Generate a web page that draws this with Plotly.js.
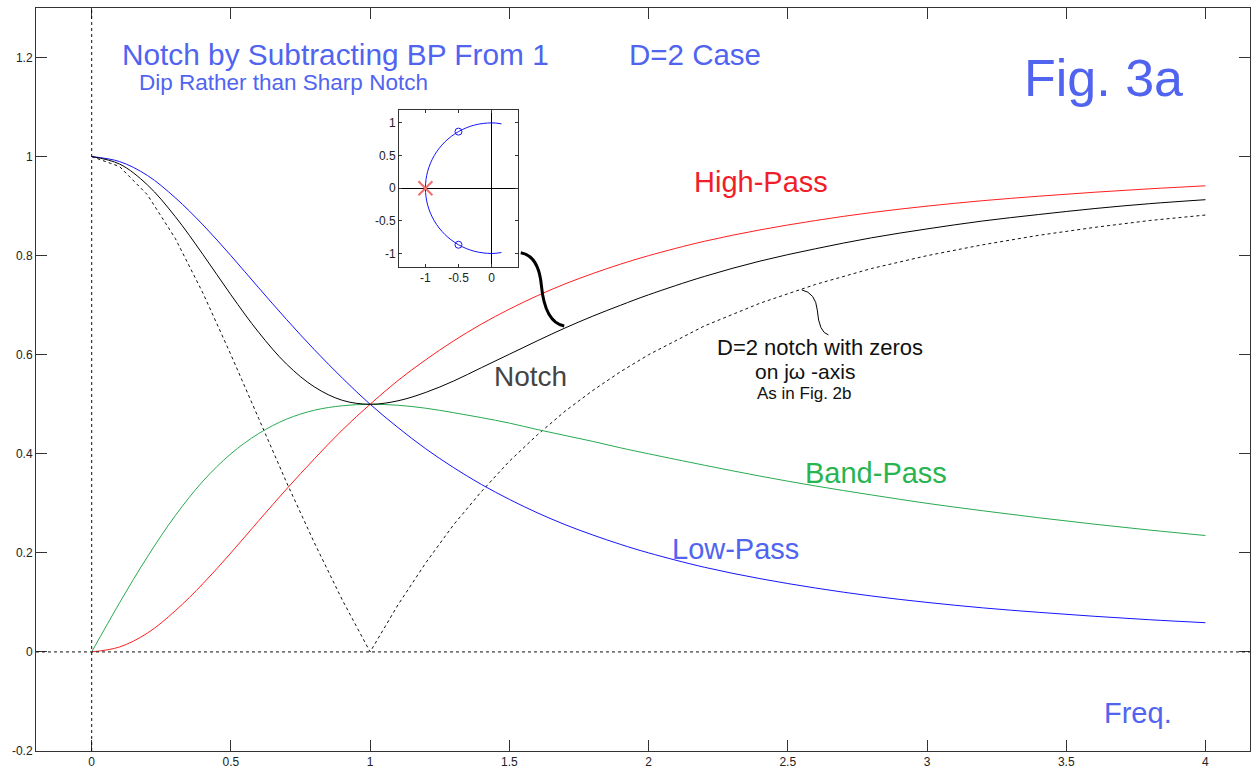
<!DOCTYPE html>
<html>
<head>
<meta charset="utf-8">
<script src="https://cdn.plot.ly/plotly-3.0.1.min.js"></script>
<style>html,body{margin:0;padding:0;background:#fff;}#chart{width:1260px;height:774px;}</style>
</head>
<body>
<div id="chart"></div>
<script>
// Frequency samples
const freq = [0,0.1,0.2,0.3,0.4,0.5,0.6,0.7,0.8,0.9,1.0,1.1,1.2,1.3,1.4,1.5,1.6,1.7,1.8,1.9,2.0,2.2,2.4,2.6,2.8,3.0,3.2,3.4,3.6,3.8,4.0];
const lowPass  = [1,0.990,0.962,0.917,0.862,0.800,0.735,0.671,0.610,0.553,0.500,0.453,0.410,0.372,0.338,0.308,0.281,0.257,0.236,0.217,0.200,0.171,0.148,0.129,0.113,0.100,0.089,0.080,0.072,0.065,0.059];
const highPass = [0,0.010,0.038,0.083,0.138,0.200,0.265,0.329,0.390,0.448,0.500,0.548,0.590,0.628,0.662,0.692,0.719,0.743,0.764,0.783,0.800,0.829,0.852,0.871,0.887,0.900,0.911,0.920,0.928,0.935,0.941];
const bandPass = [0,0.099,0.192,0.275,0.345,0.400,0.441,0.470,0.488,0.497,0.500,0.498,0.492,0.483,0.473,0.462,0.449,0.437,0.425,0.412,0.400,0.377,0.355,0.335,0.317,0.300,0.285,0.271,0.258,0.246,0.235];
const notch    = [1,0.985,0.943,0.879,0.802,0.721,0.645,0.581,0.535,0.508,0.500,0.507,0.524,0.547,0.574,0.601,0.628,0.654,0.678,0.700,0.721,0.758,0.789,0.814,0.836,0.854,0.870,0.883,0.895,0.905,0.913];
const notchJw  = [1,0.980,0.923,0.835,0.724,0.600,0.471,0.342,0.220,0.105,0.000,0.095,0.180,0.257,0.324,0.385,0.438,0.486,0.528,0.566,0.600,0.658,0.704,0.742,0.774,0.800,0.822,0.841,0.857,0.871,0.882];

// Inset pole-zero plot
const locusRe = [0.15,0,-0.259,-0.5,-0.707,-0.866,-0.966,-1,-0.966,-0.866,-0.707,-0.5,-0.259,0,0.15];
const locusIm = [0.985,1,0.966,0.866,0.707,0.5,0.259,0,-0.259,-0.5,-0.707,-0.866,-0.966,-1,-0.985];
const zerosRe = [-0.5,-0.5];
const zerosIm = [0.866,-0.866];
const polesRe = [-1];
const polesIm = [0];

const xTicks = [0,0.5,1,1.5,2,2.5,3,3.5,4];
const xTickText = ["0","0.5","1","1.5","2","2.5","3","3.5","4"];
const yTicks = [-0.2,0,0.2,0.4,0.6,0.8,1,1.2];
const yTickText = ["-0.2","0","0.2","0.4","0.6","0.8","1","1.2"];
const insetXTicks = [-1,-0.5,0];
const insetXText = ["-1","-0.5","0"];
const insetYTicks = [-1,-0.5,0,0.5,1];
const insetYText = ["-1","-0.5","0","0.5","1"];

const FONT = "Liberation Sans, Arial, sans-serif";
const BLUE_TXT = "rgb(80,100,240)";

const traces = [
  {x: freq, y: notchJw, mode: "lines", line: {color: "#111", width: 1, dash: "3px,3px"}, xaxis: "x", yaxis: "y"},
  {x: freq, y: bandPass, mode: "lines", line: {color: "rgb(40,170,80)", width: 1, shape: "spline"}, xaxis: "x", yaxis: "y"},
  {x: freq, y: lowPass, mode: "lines", line: {color: "rgb(20,20,255)", width: 1, shape: "spline"}, xaxis: "x", yaxis: "y"},
  {x: freq, y: highPass, mode: "lines", line: {color: "rgb(255,30,30)", width: 1, shape: "spline"}, xaxis: "x", yaxis: "y"},
  {x: freq, y: notch, mode: "lines", line: {color: "#000", width: 1, shape: "spline"}, xaxis: "x", yaxis: "y"},
  {x: locusRe, y: locusIm, mode: "lines", line: {color: "rgb(20,20,255)", width: 1, shape: "spline"}, xaxis: "x2", yaxis: "y2"},
  {x: zerosRe, y: zerosIm, mode: "markers", marker: {symbol: "circle-open", size: 7, color: "rgb(20,20,255)", line: {width: 1, color: "rgb(20,20,255)"}}, xaxis: "x2", yaxis: "y2"},
  {x: polesRe, y: polesIm, mode: "markers", marker: {symbol: "x-thin-open", size: 14, color: "rgb(240,110,110)", line: {width: 2, color: "rgb(240,110,110)"}}, xaxis: "x2", yaxis: "y2"}
];

function ann(text, x, y, size, color) {
  return {text: text, x: x, y: y, xref: "x", yref: "y", xanchor: "left", yanchor: "middle",
          showarrow: false, font: {family: FONT, size: size, color: color}};
}

const layout = {
  width: 1260, height: 774,
  margin: {l: 36, r: 10, t: 8, b: 23},
  paper_bgcolor: "#fff", plot_bgcolor: "#fff",
  showlegend: false,
  font: {family: FONT, size: 13, color: "#222"},
  xaxis: {domain: [0, 1], range: [-0.2, 4.16], tickmode: "array", tickvals: xTicks, ticktext: xTickText,
          ticks: "inside", ticklen: 11, tickcolor: "#333", showline: true, linecolor: "#333", linewidth: 1,
          mirror: "ticks", showgrid: false, zeroline: false, tickfont: {size: 12, color: "#222"}},
  yaxis: {domain: [0, 1], range: [-0.2, 1.3], tickmode: "array", tickvals: yTicks, ticktext: yTickText,
          ticks: "inside", ticklen: 11, tickcolor: "#333", showline: true, linecolor: "#333", linewidth: 1,
          mirror: "ticks", showgrid: false, zeroline: false, tickfont: {size: 12, color: "#222"}},
  xaxis2: {domain: [0.299, 0.397], anchor: "y2", range: [-1.4, 0.4], tickmode: "array", tickvals: insetXTicks, ticktext: insetXText,
           ticks: "inside", ticklen: 3, tickcolor: "#333", showline: true, linecolor: "#333", mirror: "ticks",
           showgrid: false, zeroline: true, zerolinecolor: "#000", zerolinewidth: 1, tickfont: {size: 12, color: "#222"}},
  yaxis2: {domain: [0.652, 0.863], anchor: "x2", range: [-1.2, 1.2], tickmode: "array", tickvals: insetYTicks, ticktext: insetYText,
           ticks: "inside", ticklen: 3, tickcolor: "#333", showline: true, linecolor: "#333", mirror: "ticks",
           showgrid: false, zeroline: true, zerolinecolor: "#000", zerolinewidth: 1, tickfont: {size: 12, color: "#222"}},
  shapes: [
    {type: "line", xref: "x", yref: "y", x0: -0.2, x1: 4.16, y0: 0, y1: 0, line: {color: "#111", width: 1, dash: "3px,3px"}},
    {type: "line", xref: "x", yref: "y", x0: 0, x1: 0, y0: -0.2, y1: 1.3, line: {color: "#111", width: 1, dash: "3px,3px"}},
    {type: "path", xref: "x", yref: "y", path: "M1.541,0.806 Q1.605,0.80 1.615,0.74 Q1.628,0.665 1.697,0.658", line: {color: "#000", width: 3}},
    {type: "path", xref: "x", yref: "y", path: "M2.550,0.731 Q2.600,0.725 2.606,0.69 Q2.612,0.645 2.646,0.640", line: {color: "#000", width: 1}}
  ],
  annotations: [
    ann("Notch by Subtracting BP From 1", 0.102, 1.207, 29.8, BLUE_TXT),
    ann("Dip Rather than Sharp Notch", 0.162, 1.149, 22.5, BLUE_TXT),
    ann("D=2 Case", 1.923, 1.207, 29.5, BLUE_TXT),
    ann("Fig. 3a", 3.342, 1.159, 52, BLUE_TXT),
    ann("High-Pass", 2.156, 0.949, 29, "rgb(240,30,40)"),
    ann("Notch", 1.438, 0.557, 28, "#444"),
    ann("D=2 notch with zeros", 2.238, 0.614, 22, "#111"),
    ann("on jω -axis", 2.375, 0.567, 21, "#111"),
    ann("As in Fig. 2b", 2.382, 0.522, 17, "#111"),
    ann("Band-Pass", 2.555, 0.361, 29, "rgb(40,180,80)"),
    ann("Low-Pass", 2.077, 0.208, 29, BLUE_TXT),
    ann("Freq.", 3.629, -0.123, 29, BLUE_TXT)
  ]
};

Plotly.newPlot("chart", traces, layout, {displayModeBar: false, staticPlot: true});
</script>
</body>
</html>
